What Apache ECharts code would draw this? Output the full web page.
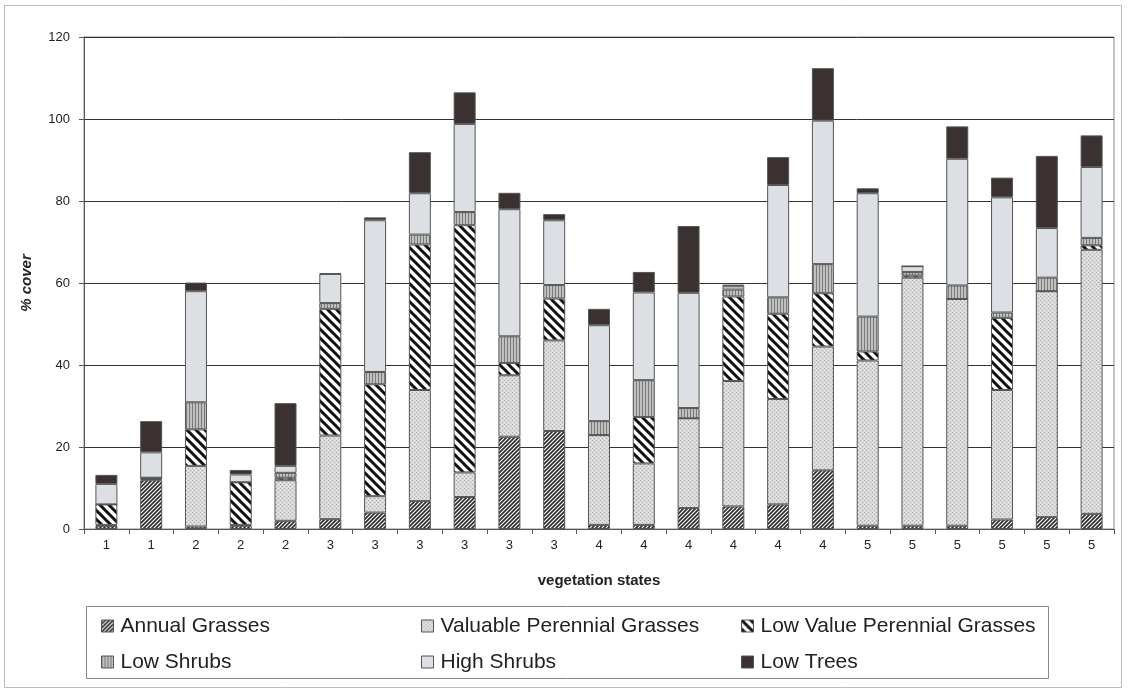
<!DOCTYPE html>
<html><head><meta charset="utf-8">
<script src="https://cdn.jsdelivr.net/npm/echarts@6/dist/echarts.min.js"></script>
<style>html,body{margin:0;padding:0;background:#fff}#c{width:1128px;height:691px}</style>
</head><body><div id="c"></div>
<script>
const categories = ['1','1','2','2','2','3','3','3','3','3','3','4','4','4','4','4','4','5','5','5','5','5','5'];
const annualGrasses   = [0.7,11.9,0.6,0.8,2.0,2.4,4.0,6.8,7.8,22.5,23.9,1.0,1.0,5.1,5.5,6.0,14.3,0.8,0.8,0.8,2.3,2.9,3.7];
const valuablePerennial = [0.3,0.3,14.8,0.2,9.9,20.4,4.0,27.1,6.0,15.0,22.1,21.9,15.0,21.9,30.6,25.7,30.2,40.3,60.5,55.3,31.6,55.1,64.4];
const lowValuePerennial = [5.0,0.3,8.9,10.4,0.6,30.9,27.3,35.5,60.3,3.0,10.2,0,11.3,0,20.6,20.8,13.0,2.2,0.5,0,17.6,0,1.1];
const lowShrubs       = [0,0,6.6,0,1.2,1.4,3.0,2.4,3.2,6.5,3.3,3.4,9.0,2.5,1.7,4.0,7.1,8.5,0.9,3.3,1.3,3.3,1.8];
const highShrubs      = [5.0,6.2,27.1,1.9,1.7,7.1,37.0,10.1,21.5,31.0,15.8,23.4,21.4,28.1,0.8,27.4,35.0,30.1,1.4,30.9,28.1,12.1,17.3];
const lowTrees        = [2.2,7.6,2.1,1.1,15.3,0.2,0.7,10.0,7.7,4.0,1.5,4.0,5.0,16.3,0.4,6.8,12.8,1.2,0,7.9,4.8,17.6,7.7];
const seriesNames = ['Annual Grasses','Valuable Perennial Grasses','Low Value Perennial Grasses','Low Shrubs','High Shrubs','Low Trees'];
const yTicks = {min:0, max:120, interval:20};

function diag(size, lw, fg, bg, dir){
  const c=document.createElement('canvas'); c.width=c.height=size;
  const g=c.getContext('2d'); g.fillStyle=bg; g.fillRect(0,0,size,size);
  g.strokeStyle=fg; g.lineWidth=lw; g.lineCap='square';
  g.beginPath();
  if(dir==='/'){
    g.moveTo(-1,size+1); g.lineTo(size+1,-1);
    g.moveTo(-1,1); g.lineTo(1,-1);
    g.moveTo(size-1,size+1); g.lineTo(size+1,size-1);
  } else {
    g.moveTo(-1,-1); g.lineTo(size+1,size+1);
    g.moveTo(size-1,-1); g.lineTo(size+1,1);
    g.moveTo(-1,size-1); g.lineTo(1,size+1);
  }
  g.stroke(); return c;
}
function dots(){
  const c=document.createElement('canvas'); c.width=c.height=4;
  const g=c.getContext('2d'); g.fillStyle='#d9d9d9'; g.fillRect(0,0,4,4);
  g.fillStyle='#ababab'; g.fillRect(0,0,1,1); g.fillRect(2,2,1,1);
  g.fillStyle='#ebebeb'; g.fillRect(2,0,1,1); g.fillRect(0,2,1,1);
  return c;
}
function vstripes(){
  const c=document.createElement('canvas'); c.width=3; c.height=3;
  const g=c.getContext('2d'); g.fillStyle='#c0c0c0'; g.fillRect(0,0,3,3);
  g.fillStyle='#7a7a7a'; g.fillRect(0,0,1,3);
  return c;
}
const fills = [
  {image: diag(4,1.7,'#2c2c2c','#ffffff','/'), repeat:'repeat'},
  {image: dots(), repeat:'repeat'},
  {image: diag(9,3,'#111111','#ffffff','\\'), repeat:'repeat'},
  {image: vstripes(), repeat:'repeat'},
  '#dcdfe3',
  '#3b3131'
];
const dataArr = [annualGrasses,valuablePerennial,lowValuePerennial,lowShrubs,highShrubs,lowTrees];

const chart = echarts.init(document.getElementById('c'), null, {renderer:'canvas'});
const font = 'Liberation Sans, Arial, sans-serif';
const legendCommon = {orient:'vertical', itemWidth:12, itemHeight:12, itemGap:12, icon:'rect',
  textStyle:{fontFamily:font, fontSize:21, lineHeight:24, color:'#222', padding:[0,0,0,2]},
  itemStyle:{borderColor:'#555', borderWidth:1}, selectedMode:false, padding:0};
chart.setOption({
  animation:false,
  backgroundColor:'#fff',
  grid:{left:84, right:14, top:37, bottom:162, show:true, borderColor:'#8a8a8a', borderWidth:1},
  xAxis:{type:'category', data:categories, name:'vegetation states', nameLocation:'middle', nameGap:44,
    nameTextStyle:{fontFamily:font, fontSize:15, fontWeight:'bold', color:'#222'},
    axisLine:{lineStyle:{color:'#555'}}, axisTick:{show:true, length:5, lineStyle:{color:'#555'}},
    axisLabel:{fontFamily:font, fontSize:13, color:'#222', margin:10}},
  yAxis:{type:'value', min:yTicks.min, max:yTicks.max, interval:yTicks.interval,
    name:'% cover', nameLocation:'middle', nameGap:50, nameRotate:90,
    nameTextStyle:{fontFamily:font, fontSize:15, fontWeight:'bold', fontStyle:'italic', color:'#222'},
    axisLine:{show:true, lineStyle:{color:'#555'}}, axisTick:{show:true, length:5, lineStyle:{color:'#555'}},
    axisLabel:{fontFamily:font, fontSize:13, color:'#222', margin:14},
    splitLine:{lineStyle:{color:'#333', width:1}}},
  legend:[
    Object.assign({left:101, top:614, data:[seriesNames[0],seriesNames[3]]}, legendCommon),
    Object.assign({left:421, top:614, data:[seriesNames[1],seriesNames[4]]}, legendCommon),
    Object.assign({left:741, top:614, data:[seriesNames[2],seriesNames[5]]}, legendCommon)
  ],
  graphic:[
    {type:'rect', shape:{x:86.5,y:606.5,width:962,height:72}, style:{fill:'none', stroke:'#888', lineWidth:1}, silent:true},
    {type:'rect', shape:{x:4.5,y:5.5,width:1117,height:682}, style:{fill:'none', stroke:'#bbb', lineWidth:1}, silent:true}
  ],
  series: seriesNames.map((n,i)=>({
    name:n, type:'bar', stack:'total', data:dataArr[i], barWidth:22,
    itemStyle:{color:fills[i], borderColor:'#555', borderWidth:1}
  }))
});
</script></body></html>
